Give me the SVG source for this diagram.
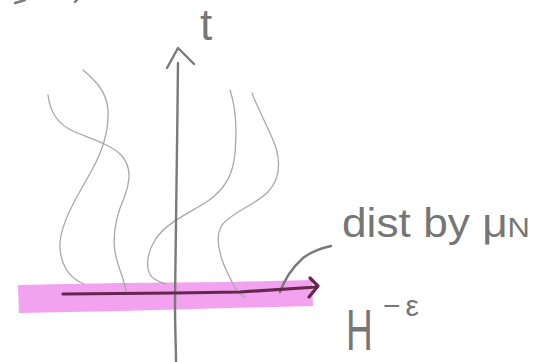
<svg xmlns="http://www.w3.org/2000/svg" width="549" height="362" viewBox="0 0 549 362">
<style>
.curve{fill:none;stroke:#a8a8a8;stroke-width:1.3;stroke-linecap:round;stroke-linejoin:round}
.ink{fill:none;stroke:#7a7a7a;stroke-width:2.4;stroke-linecap:round;stroke-linejoin:round}
.dark{fill:none;stroke:#62284d;stroke-width:3.2;stroke-linecap:round;stroke-linejoin:round}
.lbl{fill:#767676;font-family:"Liberation Sans",Arial,sans-serif}
</style>
<rect width="549" height="362" fill="#ffffff"/>
<g id="band">
<path d="M18,285 L120,283 L230,282 L312,280 L313,306 L230,308 L120,311 L19,313 Z" fill="#f2a2ee"/>
</g>
<g id="fragments">
<path class="ink" d="M15,3 L25,0" stroke-width="1.8"/>
<path class="ink" d="M75,2 L77,0" stroke-width="1.8"/>
</g>
<g id="paths">
<path class="curve" d="M48,95 C50,112 58,125 75,132 C92,139 112,145 122,156 C132,168 130,182 124,198 C117,214 112,232 115,252 C118,268 124,278 126,291"/>
<path class="curve" d="M83,70 C95,80 107,92 108,110 C109,130 103,150 92,170 C78,195 62,220 60,242 C59,262 68,278 84,284"/>
<path class="curve" d="M230,90 C236,108 237,130 235,153 C233,175 225,190 205,203 C185,215 165,224 155,240 C145,256 146,272 153,278 C157,281 162,283 166,284"/>
<path class="curve" d="M252,93 C258,110 270,130 276,148 C281,165 279,180 268,192 C255,205 232,212 222,225 C214,238 220,258 229,276 C233,284 236,290 238,293 L245,297"/>
</g>
<g id="axis-t">
<path class="ink" d="M178,63 C177,150 176,250 175,300 C175,330 176,350 176,362"/>
<path class="ink" d="M167,68 L178,48 L194,64"/>
<text class="lbl" x="200" y="40" font-size="44">t</text>
</g>
<g id="connectors">
<path class="ink" d="M280,292 C285,278 292,268 303,258 C312,251 322,248 331,246" stroke-width="2"/>
<path class="dark" d="M63,294 L175,293 L240,292 L317,287"/>
<path class="dark" d="M310,278 L318,286 L309,297"/>
</g>
<g id="label-dist">
<text class="lbl" x="342" y="237" font-size="40" textLength="188" lengthAdjust="spacingAndGlyphs">dist by μ<tspan font-size="28">N</tspan></text>
</g>
<g id="label-H">
<text class="lbl" transform="translate(346,350) scale(0.64,1)" font-size="58">H</text>
<text class="lbl" x="383" y="316" font-size="30">−<tspan dx="5">ε</tspan></text>
</g>
</svg>
